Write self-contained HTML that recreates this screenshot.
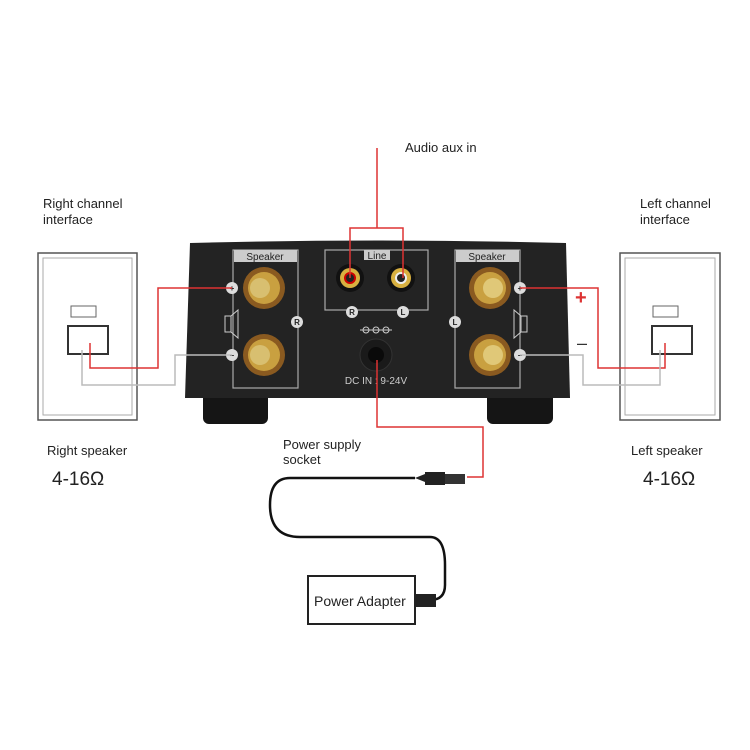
<!DOCTYPE html>
<html><head><style>body{margin:0;background:#fff}svg{display:block}</style></head><body>
<svg width="750" height="750" viewBox="0 0 750 750" xmlns="http://www.w3.org/2000/svg" font-family="Liberation Sans, sans-serif">
<!-- speakers -->
<g fill="none" stroke="#555">
<rect x="38" y="253" width="99" height="167" stroke-width="1.5"/>
<rect x="43" y="258" width="89" height="157" stroke="#aaa"/>
<rect x="620" y="253" width="100" height="167" stroke-width="1.5"/>
<rect x="625" y="258" width="90" height="157" stroke="#aaa"/>
</g>
<rect x="71" y="306" width="25" height="11" fill="#fff" stroke="#666"/>
<rect x="68" y="326" width="40" height="28" fill="#fff" stroke="#333" stroke-width="2"/>
<rect x="653" y="306" width="25" height="11" fill="#fff" stroke="#666"/>
<rect x="652" y="326" width="40" height="28" fill="#fff" stroke="#333" stroke-width="2"/>
<!-- amp -->
<rect x="203" y="392" width="65" height="32" rx="6" fill="#151515"/>
<rect x="487" y="392" width="66" height="32" rx="6" fill="#151515"/>
<path d="M190 243 Q378 238 566 243 L570 398 L185 398 Z" fill="#232323"/>
<g fill="none" stroke="#aaa" stroke-width="1.2">
<rect x="233" y="250" width="65" height="138"/>
<rect x="325" y="250" width="103" height="60"/>
<rect x="455" y="250" width="65" height="138"/>
</g>
<rect x="234" y="250" width="63" height="12" fill="#ccc"/>
<rect x="456" y="250" width="63" height="12" fill="#ccc"/>
<rect x="364" y="250" width="26" height="10" fill="#ccc"/>
<g font-size="10" fill="#222" text-anchor="middle">
<text x="265" y="260">Speaker</text><text x="487" y="260">Speaker</text><text x="377" y="259">Line</text>
</g>
<g>
<circle cx="264" cy="288" r="21" fill="#8a5a20"/><circle cx="264" cy="288" r="16" fill="#c9a040"/><circle cx="260" cy="288" r="10" fill="#d8bf70"/>
<circle cx="264" cy="355" r="21" fill="#8a5a20"/><circle cx="264" cy="355" r="16" fill="#c9a040"/><circle cx="260" cy="355" r="10" fill="#d8bf70"/>
<circle cx="490" cy="288" r="21" fill="#8a5a20"/><circle cx="490" cy="288" r="16" fill="#c9a040"/><circle cx="493" cy="288" r="10" fill="#e0c878"/>
<circle cx="490" cy="355" r="21" fill="#8a5a20"/><circle cx="490" cy="355" r="16" fill="#c9a040"/><circle cx="493" cy="355" r="10" fill="#e0c878"/>
<circle cx="350" cy="278" r="14" fill="#111"/><circle cx="350" cy="278" r="10" fill="#d8b040"/><circle cx="350" cy="278" r="6" fill="#c00"/><circle cx="350" cy="278" r="4" fill="#222"/>
<circle cx="401" cy="278" r="14" fill="#111"/><circle cx="401" cy="278" r="10" fill="#d8b040"/><circle cx="401" cy="278" r="6" fill="#eee"/><circle cx="401" cy="278" r="4" fill="#222"/>
<circle cx="376" cy="355" r="16" fill="#1a1a1a" stroke="#333"/><circle cx="376" cy="355" r="8" fill="#0a0a0a"/>
</g>
<g fill="#ddd" font-size="8" font-weight="bold" text-anchor="middle">
<circle cx="232" cy="288" r="6"/><circle cx="232" cy="355" r="6"/><circle cx="520" cy="288" r="6"/><circle cx="520" cy="355" r="6"/>
<circle cx="297" cy="322" r="6"/><circle cx="455" cy="322" r="6"/><circle cx="352" cy="312" r="6"/><circle cx="403" cy="312" r="6"/>
<g fill="#222"><text x="297" y="325">R</text><text x="455" y="325">L</text><text x="352" y="315">R</text><text x="403" y="315">L</text>
<text x="232" y="291">+</text><text x="520" y="291">+</text><text x="232" y="358">–</text><text x="520" y="358">–</text></g>
</g>
<text x="376" y="384" font-size="10" fill="#ccc" text-anchor="middle">DC IN : 9-24V</text>
<g fill="none" stroke="#ccc"><path d="M360 330h32"/><circle cx="366" cy="330" r="3"/><circle cx="376" cy="330" r="3"/><circle cx="386" cy="330" r="3"/>
<path d="M225 316h6v16h-6z M231 316l7-6v28l-7-6"/><path d="M527 316h-6v16h6z M521 316l-7-6v28l7-6"/></g>
<!-- wires -->
<g fill="none" stroke="#d33" stroke-width="1.5">
<path d="M377 148V228M350 278V228H403V278"/>
<path d="M232 288H158V368H90V343"/>
<path d="M520 288H598V368H665V343"/>
<path d="M377 360V427H483V477H467"/>
</g>
<g fill="none" stroke="#bbb" stroke-width="1.5">
<path d="M232 355H175V385H82V350"/>
<path d="M520 355H583V385H660V350"/>
</g>
<!-- cable -->
<path d="M415 478H290Q270 478 270 505Q270 537 300 537H430Q445 537 445 565V585Q445 600 430 600" fill="none" stroke="#111" stroke-width="2.5"/>
<rect x="425" y="472" width="20" height="13" fill="#222"/><rect x="445" y="474" width="20" height="10" fill="#333"/><path d="M415 478l10-4v8z" fill="#222"/>
<rect x="416" y="594" width="20" height="13" fill="#222"/>
<rect x="308" y="576" width="107" height="48" fill="#fff" stroke="#222" stroke-width="2"/>
<!-- text -->
<g fill="#222" font-size="13">
<text x="405" y="152">Audio aux in</text>
<text x="43" y="208">Right channel</text><text x="43" y="224">interface</text>
<text x="640" y="208">Left channel</text><text x="640" y="224">interface</text>
<text x="47" y="455">Right speaker</text><text x="631" y="455">Left speaker</text>
<text x="283" y="449">Power supply</text><text x="283" y="464">socket</text>
<text x="314" y="606" font-size="14">Power  Adapter</text>
<text x="52" y="485" font-size="19">4-16Ω</text><text x="643" y="485" font-size="19">4-16Ω</text>
</g>
<text x="575" y="304" font-size="20" fill="#d33" font-weight="bold">+</text>
<text x="577" y="349" font-size="18" fill="#333">–</text>
</svg>
</body></html>
